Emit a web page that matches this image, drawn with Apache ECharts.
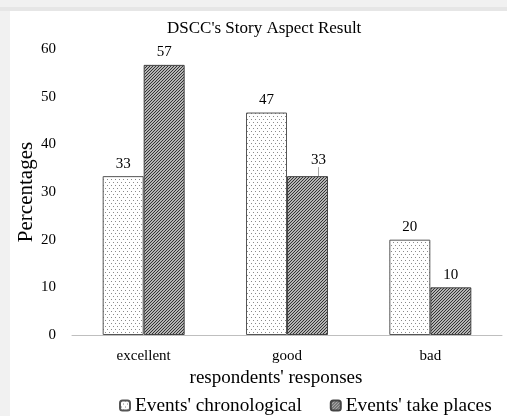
<!DOCTYPE html>
<html>
<head>
<meta charset="utf-8">
<script src="https://cdn.jsdelivr.net/npm/echarts@6/dist/echarts.min.js"></script>
<style>
html,body{margin:0;padding:0;background:#f1f1f1;width:507px;height:416px;overflow:hidden;}
#wrap{position:absolute;left:0;top:7px;width:507px;height:4px;background:#e6e6e6;}
#chart{position:absolute;left:10px;top:11px;width:497px;height:405px;background:#fff;}
</style>
</head>
<body>
<div id="wrap"></div>
<div id="chart"></div>
<script>
const categories = ['excellent', 'good', 'bad'];
const chronological = [33.33, 46.67, 20];
const takePlaces = [56.67, 33.33, 10];
const yTicks = [0, 10, 20, 30, 40, 50, 60];
const seriesNames = ["Events' chronological", "Events' take places"];

function makeDots() {
  const c = document.createElement('canvas');
  c.width = 8; c.height = 6;
  const g = c.getContext('2d');
  g.fillStyle = '#ffffff'; g.fillRect(0, 0, 8, 6);
  g.fillStyle = '#8a8a8a';
  g.fillRect(1, 0, 1, 1); g.fillRect(5, 0, 1, 1);
  g.fillRect(3, 3, 1, 1); g.fillRect(7, 3, 1, 1);
  return c;
}
function makeHatch() {
  const c = document.createElement('canvas');
  c.width = 3; c.height = 3;
  const g = c.getContext('2d');
  g.fillStyle = '#b4b4b4'; g.fillRect(0, 0, 3, 3);
  g.fillStyle = '#333333';
  g.fillRect(0, 2, 1, 1); g.fillRect(1, 1, 1, 1); g.fillRect(2, 0, 1, 1);
  return c;
}
const font = '"Liberation Serif", "Times New Roman", serif';
const chart = echarts.init(document.getElementById('chart'));
const labelStyle = {show: true, position: 'top', distance: 5, fontFamily: font, fontSize: 15, color: '#000',
  formatter: p => Math.round(p.value)};
chart.setOption({
  animation: false,
  title: {
    text: "DSCC's Story Aspect Result",
    left: 152, top: 4,
    textStyle: {fontFamily: font, fontWeight: 'normal', fontSize: 17, color: '#000'}
  },
  legend: {
    bottom: 1, left: 109, padding: 0,
    itemWidth: 10, itemHeight: 10, itemGap: 28,
    textStyle: {fontFamily: font, fontSize: 19.3, color: '#000'},
    data: seriesNames
  },
  grid: {left: 62, right: 5, top: 38, bottom: 81, containLabel: false, outerBoundsMode: 'none'},
  xAxis: {
    type: 'category', data: categories,
    name: "respondents' responses", nameLocation: 'middle', nameGap: 33,
    nameTextStyle: {fontFamily: font, fontSize: 19, color: '#000', padding: [0, 22, 0, 0]},
    axisLine: {lineStyle: {color: '#bfbfbf', width: 1}},
    axisTick: {show: false},
    axisLabel: {fontFamily: font, fontSize: 15, color: '#000', margin: 14}
  },
  yAxis: {
    type: 'value', min: 0, max: 60, interval: 10,
    name: 'Percentages', nameLocation: 'middle', nameGap: 35, nameRotate: 90,
    nameMoveOverlap: false,
    nameTextStyle: {fontFamily: font, fontSize: 21, color: '#000'},
    splitLine: {show: false},
    axisLine: {show: false}, axisTick: {show: false},
    axisLabel: {fontFamily: font, fontSize: 15, color: '#000', margin: 16,
      formatter: v => yTicks.includes(v) ? String(v) : ''}
  },
  series: [
    {
      name: seriesNames[0], type: 'bar', data: chronological,
      barWidth: 41, barGap: '0%',
      itemStyle: {color: {image: makeDots(), repeat: 'repeat'}, borderColor: '#555', borderWidth: 1},
      label: labelStyle
    },
    {
      name: seriesNames[1], type: 'bar',
      data: takePlaces.map((v, i) => i === 1
        ? {value: v, labelLine: {show: true, lineStyle: {color: '#a6a6a6', width: 1}}}
        : {value: v, labelLine: {show: false}}),
      barWidth: 41,
      itemStyle: {color: {image: makeHatch(), repeat: 'repeat'}, borderColor: '#444', borderWidth: 1},
      label: labelStyle,
      labelLine: {show: false},
      labelLayout: function (p) {
        if (p.dataIndex === 1) return {dx: 11, dy: -4};
        return {};
      }
    }
  ]
});
</script>
</body>
</html>
